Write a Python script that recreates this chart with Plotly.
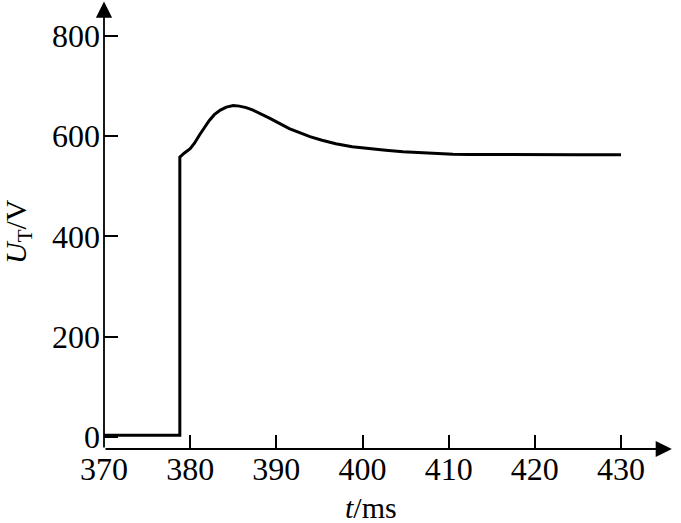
import plotly.graph_objects as go

# data (time in ms, voltage in V)
t_ms = [370.0, 378.8, 378.8, 379.3, 380.0, 380.5, 381.1, 381.6, 382.2, 382.8,
        383.5, 384.2, 385.0, 385.7, 386.5, 387.3, 388.2, 389.2, 390.3, 391.5,
        392.7, 393.9, 395.3, 396.9, 398.8, 400.8, 402.7, 404.7, 406.6, 408.5,
        410.5, 412.4, 416.0, 420.0, 425.0, 430.0]
u_t = [3, 3, 558, 566, 575, 586, 603, 617, 631, 643,
       652, 658, 661, 660, 657, 652, 645, 636, 626, 615,
       607, 599, 592, 585, 579, 575, 572, 569, 567, 565,
       564, 563.5, 563, 563, 563, 563]

x_ticks = [370, 380, 390, 400, 410, 420, 430]
y_ticks = [0, 200, 400, 600, 800]

FONT = "Liberation Serif"
W, H = 681, 523
ml, mt, mb = 104, 0, 74
plot_w = W - ml
plot_h = H - mt - mb
px_per_ms = 86.17 / 10.0
px_per_v = 0.5009
y_axis_val = -24.5
x_max = 370 + plot_w / px_per_ms
y_max = y_axis_val + plot_h / px_per_v
x_tip = 435.9
y_tip = 869

fig = go.Figure()
fig.add_trace(go.Scatter(x=t_ms, y=u_t, mode="lines",
                         line=dict(color="black", width=3),
                         hoverinfo="skip", showlegend=False))

axis_common = dict(showgrid=False, zeroline=False, showline=False,
                   ticks="inside", ticklen=14, tickwidth=1.5, tickcolor="black",
                   tickfont=dict(family=FONT, size=32, color="black"))

fig.update_layout(
    width=W, height=H,
    margin=dict(l=ml, r=0, t=mt, b=mb, pad=0),
    plot_bgcolor="white", paper_bgcolor="white",
    xaxis=dict(range=[370, x_max], tickvals=x_ticks,
               ticktext=[str(v) for v in x_ticks], ticklabelstandoff=-2,
               **axis_common),
    yaxis=dict(range=[y_axis_val, y_max], tickvals=y_ticks,
               ticktext=[str(v) for v in y_ticks], ticklabelstandoff=3,
               **axis_common),
)

# axis lines with arrowheads
fig.add_annotation(x=x_tip, y=y_axis_val, ax=370, ay=y_axis_val,
                   xref="x", yref="y", axref="x", ayref="y", text="",
                   showarrow=True, arrowhead=2, arrowsize=1.8, arrowwidth=1.8,
                   arrowcolor="black", standoff=0)
fig.add_annotation(x=370, y=y_tip, ax=370, ay=y_axis_val,
                   xref="x", yref="y", axref="x", ayref="y", text="",
                   showarrow=True, arrowhead=2, arrowsize=1.8, arrowwidth=1.8,
                   arrowcolor="black", standoff=0)

# axis titles
fig.add_annotation(x=(18 - ml) / plot_w, y=(plot_h - 232) / plot_h,
                   xref="paper", yref="paper", showarrow=False, textangle=-90,
                   xanchor="center", yanchor="middle",
                   text="<i>U</i><sub>T</sub>/V",
                   font=dict(family=FONT, size=30, color="black"))
fig.add_annotation(x=(371 - ml) / plot_w, y=(plot_h - 508) / plot_h,
                   xref="paper", yref="paper", showarrow=False,
                   xanchor="center", yanchor="middle",
                   text="<i>t</i>/ms",
                   font=dict(family=FONT, size=30, color="black"))

fig.write_html("out.html",
               config={"displayModeBar": False},
               post_script="document.body.style.margin='0';")
